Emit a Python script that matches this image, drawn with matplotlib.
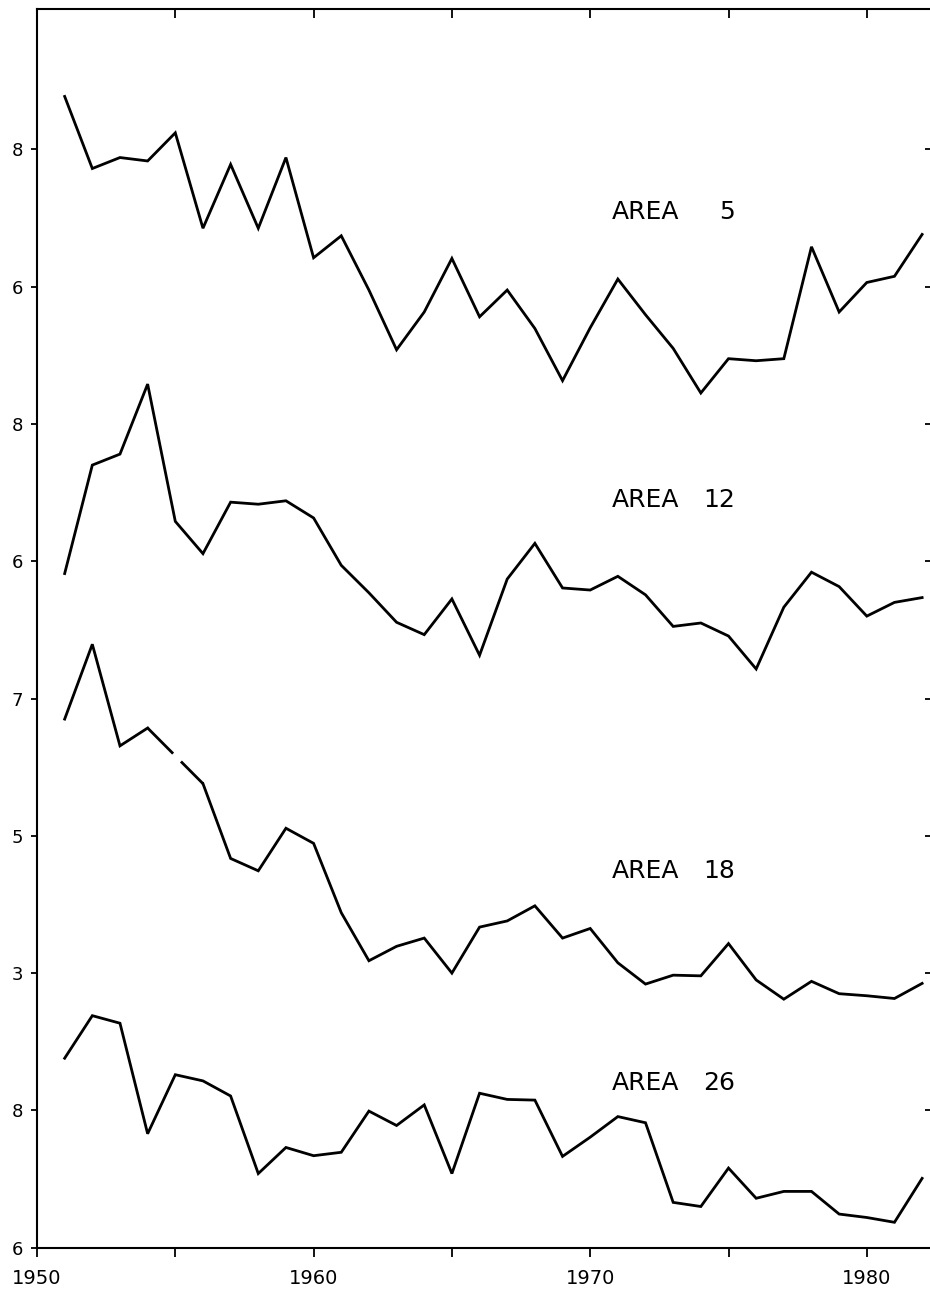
import numpy as np
import matplotlib
matplotlib.use("Agg")
import matplotlib.pyplot as plt

# ---------------- data ----------------
years = np.arange(1951, 1983)

area5 = [8.77, 7.72, 7.88, 7.83, 8.24, 6.85, 7.78, 6.85, 7.88, 6.42,
         6.74, 5.95, 5.08, 5.63, 6.41, 5.56, 5.95, 5.39, 4.63, 5.40,
         6.11, 5.59, 5.10, 4.45, 4.95, 4.92, 4.95, 6.58, 5.63, 6.06,
         6.15, 6.76]
area12 = [5.82, 7.40, 7.56, 8.58, 6.58, 6.11, 6.86, 6.83, 6.88, 6.63,
          5.94, 5.54, 5.11, 4.93, 5.45, 4.63, 5.74, 6.26, 5.61, 5.58,
          5.78, 5.51, 5.05, 5.10, 4.91, 4.43, 5.33, 5.84, 5.63, 5.20,
          5.40, 5.47]
area18 = [6.70, 7.79, 6.31, 6.57, np.nan, 5.76, 4.67, 4.49, 5.11, 4.89,
          3.88, 3.18, 3.39, 3.51, 3.00, 3.67, 3.76, 3.98, 3.51, 3.65,
          3.15, 2.84, 2.97, 2.96, 3.43, 2.90, 2.62, 2.88, 2.70, 2.67,
          2.63, 2.85]
area26 = [8.76, 9.38, 9.27, 7.66, 8.52, 8.43, 8.21, 7.08, 7.46, 7.34,
          7.39, 7.99, 7.78, 8.08, 7.08, 8.25, 8.16, 8.15, 7.33, 7.61,
          7.91, 7.82, 6.66, 6.60, 7.16, 6.72, 6.82, 6.82, 6.49, 6.44,
          6.37, 7.01]

area_names = ["AREA", "AREA", "AREA", "AREA"]
area_numbers = ["5", "12", "18", "26"]
area_ticks = [[6, 8], [6, 8], [3, 5, 7], [6, 8]]
x_major = [1950, 1960, 1970, 1980]
x_major_labels = ["1950", "1960", "1970", "1980"]
x_minor = [1955, 1965, 1975]

# ---------------- layout / style ----------------
series = [area5, area12, area18, area26]
offsets = [8, 4, 1, -6]          # vertical stacking of the panels
label_y = [15.09, 10.89, 5.49, 2.40]

W, H = 930, 1295
fig = plt.figure(figsize=(W / 100, H / 100), dpi=100)
left_px, right_px = 37, 931.5
bottom_px, top_px = 1247.7, 9
ax = fig.add_axes([left_px / W, (H - bottom_px) / H,
                   (right_px - left_px) / W, (bottom_px - top_px) / H])

ax.set_xlim(1950, 1950 + (right_px - left_px) / 27.66)
ax.set_ylim(0, (bottom_px - top_px) / 68.65)

lw = 2.0
for vals, off in zip(series, offsets):
    v = np.asarray(vals, dtype=float) + off
    ax.plot(years, v, color="black", lw=lw, solid_joinstyle="miter")
    # dashed bridge across missing years
    for i in np.where(np.isnan(v))[0]:
        if 0 < i < len(v) - 1:
            ax.plot([years[i - 1], years[i + 1]], [v[i - 1], v[i + 1]],
                    color="black", lw=lw, linestyle=(0, (13, 4)),
                    dash_capstyle="butt")

# area labels
for name, num, ly in zip(area_names, area_numbers, label_y):
    ax.text(1970.78, ly, name, fontsize=18, ha="left", va="center",
            color="black", family="DejaVu Sans")
    ax.text(1975.23, ly, num, fontsize=18, ha="right", va="center",
            color="black", family="DejaVu Sans")

# y ticks
ypos, ylab = [], []
for ticks, off in zip(area_ticks, offsets):
    for t in ticks:
        ypos.append(t + off)
        ylab.append(str(t))
ax.set_yticks(ypos)
ax.set_yticklabels(ylab, fontsize=13)

ax.set_xticks(x_major)
ax.set_xticklabels(x_major_labels, fontsize=14)
ax.set_xticks(x_minor, minor=True)

ax.tick_params(axis="x", which="both", direction="out", length=6.5,
               width=1.3, pad=9, top=False)
ax.tick_params(axis="y", which="both", direction="out", length=4.3,
               width=1.3, pad=6, right=False)

# top inward ticks / right inward ticks
axt = ax.secondary_xaxis("top")
axt.set_xticks(x_major + x_minor)
axt.tick_params(direction="in", length=6.5, width=1.3, labeltop=False)
axr = ax.secondary_yaxis("right")
axr.set_yticks(ypos)
axr.tick_params(direction="in", length=5, width=1.3, labelright=False)

for s in ["left", "bottom", "top"]:
    ax.spines[s].set_linewidth(1.5)
ax.spines["right"].set_visible(False)
axt.spines["top"].set_visible(False)
axr.spines["right"].set_visible(False)

fig.savefig("out.png", dpi=100, facecolor="white")
